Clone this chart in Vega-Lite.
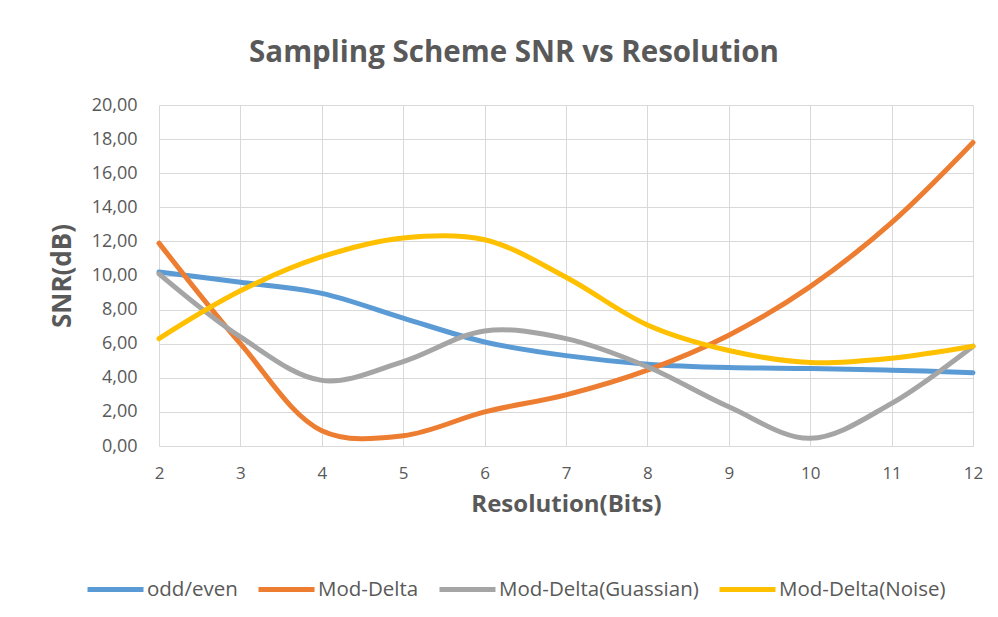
{
  "$schema": "https://vega.github.io/schema/vega-lite/v6.json",
  "width": 814,
  "height": 341,
  "autosize": {"type": "none"},
  "padding": {"left": 159, "top": 105, "right": 25, "bottom": 171},
  "background": "white",
  "title": {
    "text": "Sampling Scheme SNR vs Resolution",
    "font": "Open Sans",
    "fontSize": 29.5,
    "fontWeight": "bold",
    "color": "#595959",
    "anchor": "middle",
    "frame": "group",
    "dx": -52,
    "offset": 28
  },
  "config": {
    "view": {"stroke": null},
    "font": "Open Sans"
  },
  "data": {
    "values": [
      {"bits": 2, "snr": 10.2, "series": "odd/even"},
      {"bits": 3, "snr": 9.6, "series": "odd/even"},
      {"bits": 4, "snr": 8.95, "series": "odd/even"},
      {"bits": 5, "snr": 7.5, "series": "odd/even"},
      {"bits": 6, "snr": 6.1, "series": "odd/even"},
      {"bits": 7, "snr": 5.3, "series": "odd/even"},
      {"bits": 8, "snr": 4.8, "series": "odd/even"},
      {"bits": 9, "snr": 4.6, "series": "odd/even"},
      {"bits": 10, "snr": 4.55, "series": "odd/even"},
      {"bits": 11, "snr": 4.45, "series": "odd/even"},
      {"bits": 12, "snr": 4.3, "series": "odd/even"},
      {"bits": 2, "snr": 11.9, "series": "Mod-Delta"},
      {"bits": 3, "snr": 6.0, "series": "Mod-Delta"},
      {"bits": 4, "snr": 0.9, "series": "Mod-Delta"},
      {"bits": 5, "snr": 0.6, "series": "Mod-Delta"},
      {"bits": 6, "snr": 2.0, "series": "Mod-Delta"},
      {"bits": 7, "snr": 3.0, "series": "Mod-Delta"},
      {"bits": 8, "snr": 4.45, "series": "Mod-Delta"},
      {"bits": 9, "snr": 6.5, "series": "Mod-Delta"},
      {"bits": 10, "snr": 9.35, "series": "Mod-Delta"},
      {"bits": 11, "snr": 13.1, "series": "Mod-Delta"},
      {"bits": 12, "snr": 17.8, "series": "Mod-Delta"},
      {"bits": 2, "snr": 10.1, "series": "Mod-Delta(Guassian)"},
      {"bits": 3, "snr": 6.4, "series": "Mod-Delta(Guassian)"},
      {"bits": 4, "snr": 3.85, "series": "Mod-Delta(Guassian)"},
      {"bits": 5, "snr": 4.95, "series": "Mod-Delta(Guassian)"},
      {"bits": 6, "snr": 6.75, "series": "Mod-Delta(Guassian)"},
      {"bits": 7, "snr": 6.3, "series": "Mod-Delta(Guassian)"},
      {"bits": 8, "snr": 4.65, "series": "Mod-Delta(Guassian)"},
      {"bits": 9, "snr": 2.3, "series": "Mod-Delta(Guassian)"},
      {"bits": 10, "snr": 0.45, "series": "Mod-Delta(Guassian)"},
      {"bits": 11, "snr": 2.5, "series": "Mod-Delta(Guassian)"},
      {"bits": 12, "snr": 5.85, "series": "Mod-Delta(Guassian)"},
      {"bits": 2, "snr": 6.3, "series": "Mod-Delta(Noise)"},
      {"bits": 3, "snr": 9.1, "series": "Mod-Delta(Noise)"},
      {"bits": 4, "snr": 11.1, "series": "Mod-Delta(Noise)"},
      {"bits": 5, "snr": 12.2, "series": "Mod-Delta(Noise)"},
      {"bits": 6, "snr": 12.1, "series": "Mod-Delta(Noise)"},
      {"bits": 7, "snr": 9.9, "series": "Mod-Delta(Noise)"},
      {"bits": 8, "snr": 7.1, "series": "Mod-Delta(Noise)"},
      {"bits": 9, "snr": 5.6, "series": "Mod-Delta(Noise)"},
      {"bits": 10, "snr": 4.9, "series": "Mod-Delta(Noise)"},
      {"bits": 11, "snr": 5.15, "series": "Mod-Delta(Noise)"},
      {"bits": 12, "snr": 5.85, "series": "Mod-Delta(Noise)"}
    ]
  },
  "mark": {"type": "line", "interpolate": "catmull-rom", "strokeWidth": 5, "strokeCap": "round"},
  "encoding": {
    "x": {
      "field": "bits",
      "type": "quantitative",
      "scale": {"domain": [2, 12], "nice": false, "zero": false},
      "axis": {
        "values": [2, 3, 4, 5, 6, 7, 8, 9, 10, 11, 12],
        "title": "Resolution(Bits)",
        "titleFont": "Open Sans",
        "titleFontSize": 24,
        "titleFontWeight": "bold",
        "titleColor": "#595959",
        "titlePadding": 11,
        "labelFont": "Open Sans",
        "labelFontSize": 17,
        "labelColor": "#595959",
        "labelPadding": 19,
        "labelFlush": false,
        "labelBound": false,
        "ticks": false,
        "domainColor": "#d9d9d9",
        "gridColor": "#d9d9d9",
        "gridWidth": 1
      }
    },
    "y": {
      "field": "snr",
      "type": "quantitative",
      "scale": {"domain": [0, 20], "nice": false},
      "axis": {
        "values": [0, 2, 4, 6, 8, 10, 12, 14, 16, 18, 20],
        "labelExpr": "replace(format(datum.value, '.2f'), '.', ',')",
        "title": "SNR(dB)",
        "titleFont": "Open Sans",
        "titleFontSize": 26,
        "titleFontWeight": "bold",
        "titleColor": "#595959",
        "titlePadding": 16,
        "labelFont": "Open Sans",
        "labelFontSize": 18,
        "labelColor": "#595959",
        "labelPadding": 22,
        "labelFlush": false,
        "labelBound": false,
        "ticks": false,
        "domain": false,
        "gridColor": "#d9d9d9",
        "gridWidth": 1
      }
    },
    "color": {
      "field": "series",
      "type": "nominal",
      "scale": {
        "domain": ["odd/even", "Mod-Delta", "Mod-Delta(Guassian)", "Mod-Delta(Noise)"],
        "range": ["#5B9BD5", "#ED7D31", "#A5A5A5", "#FFC000"]
      },
      "legend": {
        "title": null,
        "orient": "none",
        "direction": "horizontal",
        "columns": 4,
        "legendX": -74,
        "legendY": 454,
        "symbolType": "stroke",
        "symbolSize": 3136,
        "symbolStrokeWidth": 5,
        "labelFont": "Open Sans",
        "labelFontSize": 20.5,
        "labelLimit": 400,
        "labelColor": "#595959",
        "labelOffset": 1,
        "columnPadding": 10
      }
    }
  }
}
